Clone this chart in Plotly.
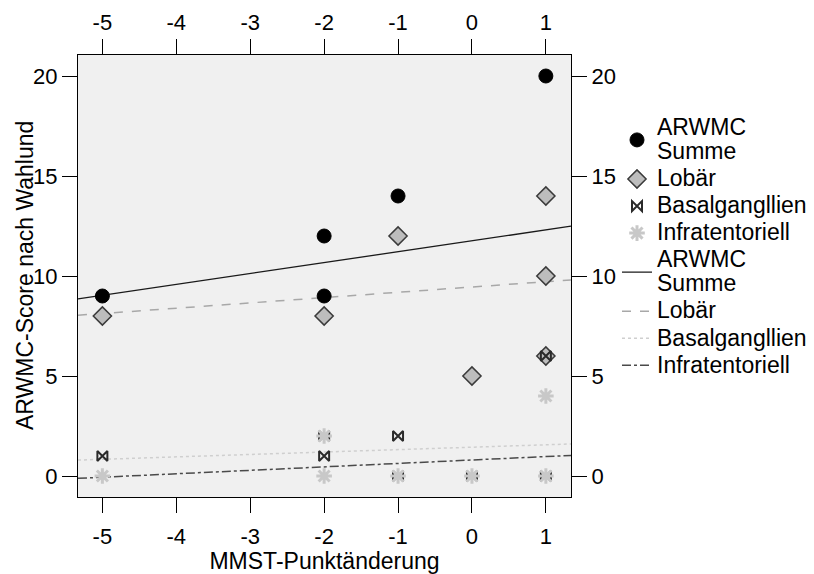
import plotly.graph_objects as go

# MMST change (x) vs. ARWMC score (y) per rating region
summe_x = [-5, -2, -2, -1, 1]
summe_y = [9, 12, 9, 14, 20]

lobaer_x = [-5, -2, -1, 0, 1, 1, 1]
lobaer_y = [8, 8, 12, 5, 14, 10, 6]

basal_x = [-5, -2, -2, -1, -1, 0, 1, 1]
basal_y = [1, 2, 1, 2, 0, 0, 0, 6]

infra_x = [-5, -2, -2, -1, 0, 1, 1]
infra_y = [0, 2, 0, 0, 0, 0, 4]

# Linear fit lines (intercept, slope) per series
fit_summe = (11.76, 0.545)
fit_lobaer = (9.45, 0.265)
fit_basal = (1.44, 0.121)
fit_infra = (0.80, 0.172)

series_names = ["ARWMC<br>Summe", "Lobär", "Basalgangllien", "Infratentoriell"]

x_ticks = [-5, -4, -3, -2, -1, 0, 1]
x_tick_labels = ["-5", "-4", "-3", "-2", "-1", "0", "1"]
y_ticks = [0, 5, 10, 15, 20]
y_tick_labels = ["0", "5", "10", "15", "20"]

x_title = "MMST-Punktänderung"
y_title = "ARWMC-Score nach Wahlund"

X_RANGE = [-5.33, 1.34]
Y_RANGE = [-1.05, 21.05]

FONT = "Liberation Sans, Arial, sans-serif"
LEGEND_TEXT_PX = 23

W, H = 814, 574
M_L, M_R, M_T, M_B = 78, 243, 55, 77
PLOT_W = W - M_L - M_R
LEGEND_LEFT_PX = 617


def legend_label(name):
    # glyphs larger than the legend's own (tighter) line pitch
    return "<br>".join(
        f"<span style='font-size:{LEGEND_TEXT_PX}px'>{part}</span>"
        for part in name.split("<br>")
    )


def fit_line(coef):
    a, b = coef
    xs = list(X_RANGE)
    return xs, [a + b * x for x in xs]


fig = go.Figure()

# regression lines (drawn first so the points sit on top)
line_styles = [
    dict(color="#1a1a1a", width=1.3, dash="solid"),
    dict(color="#a8a8a8", width=1.5, dash="dash"),
    dict(color="#cfcfcf", width=1.5, dash="dot"),
    dict(color="#4a4a4a", width=1.5, dash="dashdot"),
]
for i, (name, coef, style) in enumerate(
        zip(series_names, [fit_summe, fit_lobaer, fit_basal, fit_infra], line_styles)):
    lx, ly = fit_line(coef)
    fig.add_trace(go.Scatter(x=lx, y=ly, mode="lines", name=legend_label(name),
                             line=style, legendrank=5 + i, hoverinfo="skip"))

marker_specs = [
    (summe_x, summe_y, dict(symbol="circle", size=14, color="black",
                            line=dict(color="black", width=1))),
    (lobaer_x, lobaer_y, dict(symbol="diamond", size=14, color="#bdbdbd",
                              line=dict(color="#3a3a3a", width=1.5))),
    (basal_x, basal_y, dict(symbol="bowtie-open", size=10, color="#2a2a2a",
                            line=dict(color="#2a2a2a", width=2))),
    (infra_x, infra_y, dict(symbol="asterisk-open", size=13, color="#c8c8c8",
                            line=dict(color="#c8c8c8", width=3))),
]
for i, (name, (mx, my, mk)) in enumerate(zip(series_names, marker_specs)):
    fig.add_trace(go.Scatter(x=mx, y=my, mode="markers", name=legend_label(name),
                             marker=mk, legendrank=1 + i))

# helper trace so the mirrored top/right axes carry labels
fig.add_trace(go.Scatter(x=[None], y=[None], xaxis="x2", yaxis="y2",
                         showlegend=False, hoverinfo="skip"))

axis_common = dict(
    showgrid=False, zeroline=False, showline=True, linecolor="black",
    linewidth=1.3, ticks="outside", ticklen=15, tickwidth=1.3, automargin=False,
    tickcolor="black", tickfont=dict(size=22, color="black", family=FONT),
)

fig.update_layout(
    template="none",
    width=W, height=H,
    margin=dict(l=M_L, r=M_R, t=M_T, b=M_B, autoexpand=False),
    paper_bgcolor="white", plot_bgcolor="#f0f0f0",
    font=dict(family=FONT, color="black", size=22),
    xaxis=dict(range=X_RANGE, tickvals=x_ticks, ticktext=x_tick_labels, mirror=True,
               ticklabelstandoff=4,
               title=dict(text=x_title, font=dict(size=23), standoff=16),
               **axis_common),
    yaxis=dict(range=Y_RANGE, tickvals=y_ticks, ticktext=y_tick_labels, mirror=True,
               **axis_common),
    xaxis2=dict(range=X_RANGE, tickvals=x_ticks, ticktext=x_tick_labels,
                overlaying="x", side="top", matches="x", **axis_common),
    yaxis2=dict(range=Y_RANGE, tickvals=y_ticks, ticktext=y_tick_labels,
                overlaying="y", side="right", matches="y", **axis_common),
    legend=dict(x=(LEGEND_LEFT_PX - M_L) / PLOT_W, y=0.877, xanchor="left", yanchor="top",
                bgcolor="rgba(0,0,0,0)", borderwidth=0, font=dict(size=18.5, family=FONT),
                tracegroupgap=0, itemsizing="trace"),
    showlegend=True,
    annotations=[dict(
        text=y_title, textangle=-90, xref="paper", yref="paper",
        x=0, y=0.5, xanchor="center", yanchor="middle", xshift=-53,
        showarrow=False, font=dict(size=23, color="black", family=FONT),
    )],
)

fig.write_html("out.html")
